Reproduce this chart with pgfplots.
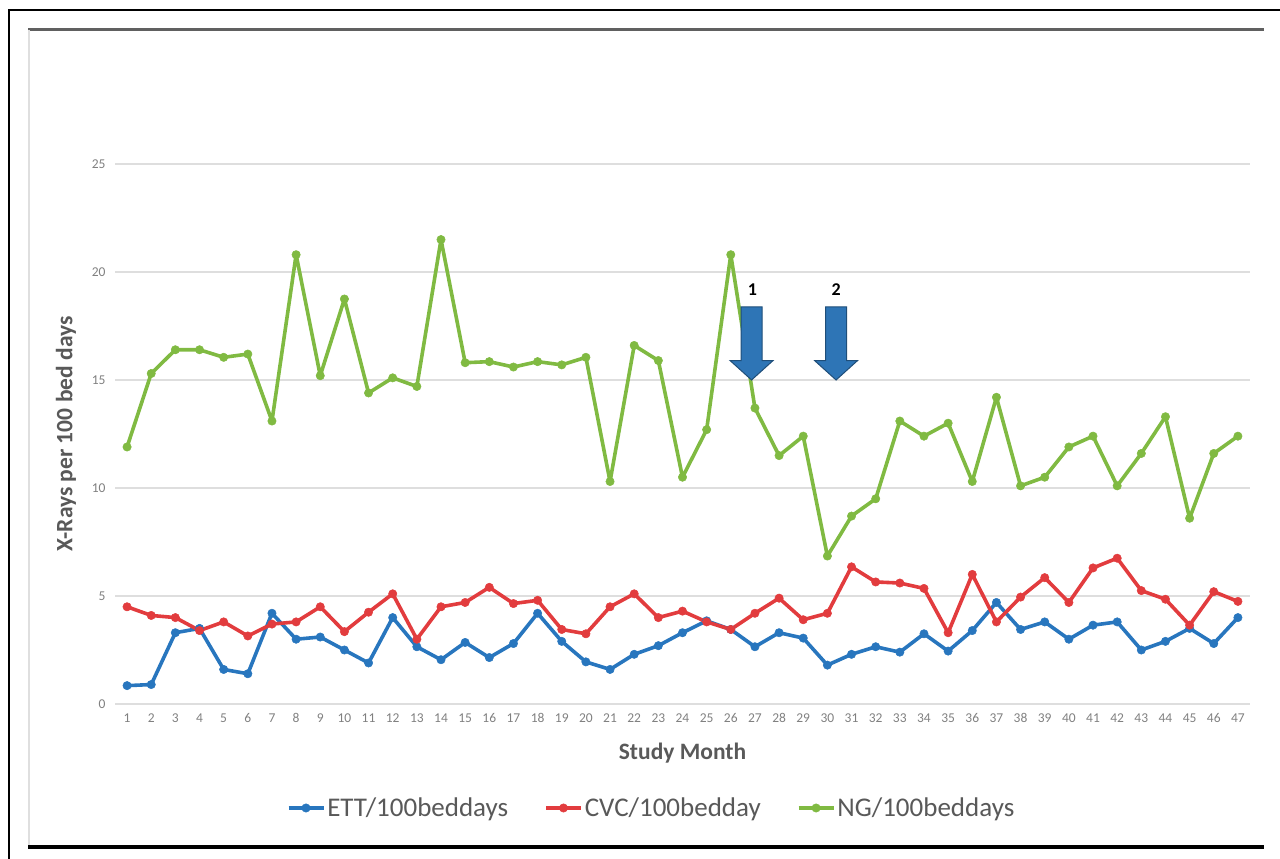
\documentclass[border=0pt]{standalone}
\usepackage{pgfplots}
\pgfplotsset{compat=1.18}
\usepackage{fontspec}
\setmainfont{Carlito}
\definecolor{ettc}{RGB}{40,118,190}
\definecolor{cvcc}{RGB}{226,60,62}
\definecolor{ngc}{RGB}{128,186,66}
\definecolor{arrowfill}{RGB}{46,117,182}
\definecolor{arrowedge}{RGB}{31,78,121}
\definecolor{gridc}{RGB}{222,222,222}
\definecolor{tickc}{RGB}{128,128,128}
\definecolor{labc}{RGB}{89,89,89}
\begin{document}
\begin{tikzpicture}[x=1pt,y=1pt]
\useasboundingbox (0pt,0pt) rectangle (1280pt,859pt);
% frame
\draw[black, line width=1.5pt] (9pt,0pt) -- (9pt,849pt) -- (1280pt,849pt);
\draw[gray!75!black, line width=3pt] (28pt,829pt) -- (1264pt,829pt);
\draw[gray!25, line width=2pt] (29pt,829pt) -- (29pt,13pt);
\draw[black, line width=4pt] (28pt,12pt) -- (1264pt,12pt);
\begin{axis}[
  at={(115pt,155pt)}, anchor=south west,
  scale only axis, width=1135pt, height=540pt,
  xmin=0.5, xmax=47.5, ymin=0, ymax=25,
  xtick={1,...,47}, ytick={0,5,10,15,20,25},
  axis line style={draw=none}, major tick length=0pt,
  ymajorgrids, grid style={color=gridc, line width=1.3pt},
  /pgf/number format/assume math mode=true,
  tick label style={font=\fontsize{13.5}{13.5}\selectfont, text=tickc},
  yticklabel style={xshift=-6pt},
  xticklabel style={yshift=-6pt},
  xlabel={\textbf{Study Month}},
  ylabel={\textbf{X-Rays per 100 bed days}},
  label style={font=\fontsize{23.5}{23.5}\selectfont, text=labc},
  xlabel style={at={(rel axis cs:0.5,0)}, anchor=center, yshift=-49pt},
  ylabel style={at={(rel axis cs:0,0.5)}, anchor=center, rotate=0, yshift=49pt},
  legend style={at={(0.4727,-0.1926)}, anchor=center, legend columns=3, draw=none,
    font=\fontsize{27}{27}\selectfont, text=labc,
    /tikz/every even column/.append style={column sep=34pt}},
  legend image code/.code={\draw[mark repeat=2,mark phase=2] plot coordinates {(0pt,0pt) (17.5pt,0pt) (35pt,0pt)};},
  every axis plot/.append style={line width=3.6pt, line join=round, mark=*, mark size=4.2pt, mark options={line width=0.5pt}},
]
\addplot[color=ettc] coordinates {
(1,0.85)(2,0.9)(3,3.3)(4,3.5)(5,1.6)(6,1.4)(7,4.2)(8,3.0)(9,3.1)(10,2.5)
(11,1.9)(12,4.0)(13,2.65)(14,2.05)(15,2.85)(16,2.15)(17,2.8)(18,4.2)(19,2.9)(20,1.95)
(21,1.6)(22,2.3)(23,2.7)(24,3.3)(25,3.85)(26,3.45)(27,2.65)(28,3.3)(29,3.05)(30,1.8)
(31,2.3)(32,2.65)(33,2.4)(34,3.25)(35,2.45)(36,3.4)(37,4.7)(38,3.45)(39,3.8)(40,3.0)
(41,3.65)(42,3.8)(43,2.5)(44,2.9)(45,3.5)(46,2.8)(47,4.0)};
\addlegendentry{ETT/100beddays}
\addplot[color=cvcc] coordinates {
(1,4.5)(2,4.1)(3,4.0)(4,3.4)(5,3.8)(6,3.15)(7,3.7)(8,3.8)(9,4.5)(10,3.35)
(11,4.25)(12,5.1)(13,3.0)(14,4.5)(15,4.7)(16,5.4)(17,4.65)(18,4.8)(19,3.45)(20,3.25)
(21,4.5)(22,5.1)(23,4.0)(24,4.3)(25,3.8)(26,3.45)(27,4.2)(28,4.9)(29,3.9)(30,4.2)
(31,6.35)(32,5.65)(33,5.6)(34,5.35)(35,3.3)(36,6.0)(37,3.8)(38,4.95)(39,5.85)(40,4.7)
(41,6.3)(42,6.75)(43,5.25)(44,4.85)(45,3.65)(46,5.2)(47,4.75)};
\addlegendentry{CVC/100bedday}
\addplot[color=ngc] coordinates {
(1,11.9)(2,15.3)(3,16.4)(4,16.4)(5,16.05)(6,16.2)(7,13.1)(8,20.8)(9,15.2)(10,18.75)
(11,14.4)(12,15.1)(13,14.7)(14,21.5)(15,15.8)(16,15.85)(17,15.6)(18,15.85)(19,15.7)(20,16.05)
(21,10.3)(22,16.6)(23,15.9)(24,10.5)(25,12.7)(26,20.8)(27,13.7)(28,11.5)(29,12.4)(30,6.85)
(31,8.7)(32,9.5)(33,13.1)(34,12.4)(35,13.0)(36,10.3)(37,14.2)(38,10.1)(39,10.5)(40,11.9)
(41,12.4)(42,10.1)(43,11.6)(44,13.3)(45,8.6)(46,11.6)(47,12.4)};
\addlegendentry{NG/100beddays}
% annotation arrows
\draw[fill=arrowfill, draw=arrowedge, line width=1pt]
  (axis cs:26.425,18.38) -- (axis cs:27.295,18.38) -- (axis cs:27.295,15.9)
  -- (axis cs:27.75,15.9) -- (axis cs:26.86,15.0) -- (axis cs:25.97,15.9)
  -- (axis cs:26.425,15.9) -- cycle;
\draw[fill=arrowfill, draw=arrowedge, line width=1pt]
  (axis cs:29.925,18.38) -- (axis cs:30.795,18.38) -- (axis cs:30.795,15.9)
  -- (axis cs:31.25,15.9) -- (axis cs:30.36,15.0) -- (axis cs:29.47,15.9)
  -- (axis cs:29.925,15.9) -- cycle;
\node[font=\bfseries\fontsize{18}{18}\selectfont] at (axis cs:26.9,19.2) {1};
\node[font=\bfseries\fontsize{18}{18}\selectfont] at (axis cs:30.36,19.2) {2};
\end{axis}
\end{tikzpicture}
\end{document}
